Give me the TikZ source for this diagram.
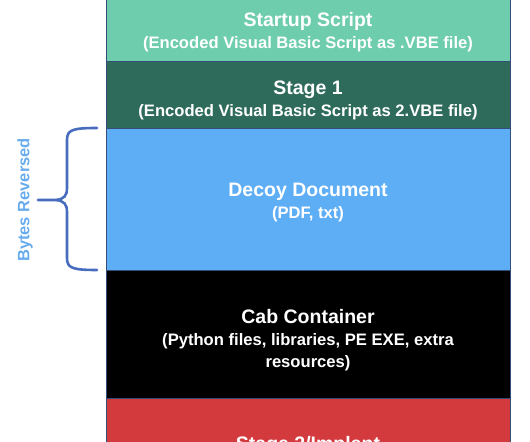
\documentclass[tikz,border=0pt]{standalone}
\usepackage{fontspec}
\setmainfont{Liberation Sans}
\usetikzlibrary{positioning}
\definecolor{startgreen}{RGB}{110,205,172}
\definecolor{stagegreen}{RGB}{46,107,90}
\definecolor{decoyblue}{RGB}{94,174,245}
\definecolor{implantred}{RGB}{211,58,62}
\definecolor{boxline}{RGB}{52,78,120}
\definecolor{bracecol}{RGB}{72,108,190}
\definecolor{labelblue}{RGB}{104,172,238}
\newcommand{\layernote}{\fontsize{16.6bp}{22bp}\selectfont}
\tikzset{
  layer/.style={draw=boxline, line width=0.8bp, minimum width=404bp, inner sep=0pt, outer sep=0pt},
  layertext/.style={text=white, align=center, inner sep=0pt, font=\bfseries\fontsize{19.5bp}{22bp}\selectfont},
  brace/.style={draw=bracecol, line width=2.6bp, line cap=round}
}

\begin{document}
\begin{tikzpicture}[x=1bp,y=-1bp]
\useasboundingbox (0,0) rectangle (530,442);
\clip (0,0) rectangle (530,442);
% Stacked layers of the dropper
\node[layer, fill=startgreen, minimum height=63bp] (startup) at (308,29.5) {};
\node[layer, fill=stagegreen, minimum height=67bp, below=0pt of startup] (stage1) {};
\node[layer, fill=decoyblue, minimum height=142bp, below=0pt of stage1] (decoy) {};
\node[layer, fill=black, minimum height=128bp, below=0pt of decoy] (cab) {};
\node[layer, fill=implantred, minimum height=86bp, below=0pt of cab] (implant) {};
% Layer texts
\node[layertext, yshift=-3bp] (startuptxt) at (startup) {Startup Script\\\layernote (Encoded Visual Basic Script as .VBE file)};
\node[layertext, yshift=-5.5bp] (stage1txt) at (stage1) {Stage 1\\\layernote (Encoded Visual Basic Script as 2.VBE file)};
\node[layertext, yshift=-4bp] (decoytxt) at (decoy) {Decoy Document\\\layernote (PDF, txt)};
\node[layertext, yshift=-6bp] (cabtxt) at (cab) {Cab Container\\\layernote (Python files, libraries, PE EXE, extra\\\layernote resources)};
\node[layertext, yshift=-4bp] (implanttxt) at (implant) {Stage 2/Implant};
% Brace next to the decoy
\draw[brace] (97,128) .. controls (72,128) and (67,130) .. (67,140) -- (67,188) .. controls (67,196) and (64,199) .. (56,200) -- (38,200);
\draw[brace] (97,270) .. controls (72,270) and (67,268) .. (67,258) -- (67,212) .. controls (67,204) and (64,201) .. (56,200);
\node[rotate=90, text=labelblue, font=\bfseries\fontsize{16.5bp}{18bp}\selectfont] (bytes) at (25,200) {Bytes Reversed};
\end{tikzpicture}
\end{document}
